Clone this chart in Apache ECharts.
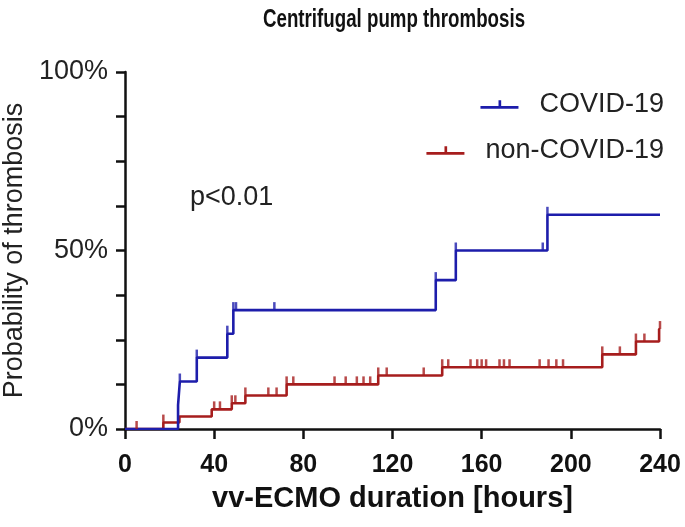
<!DOCTYPE html>
<html>
<head>
<meta charset="utf-8">
<script src="https://cdn.jsdelivr.net/npm/echarts@6/dist/echarts.min.js"></script>
<style>html,body{margin:0;padding:0;background:#fff;}#c{width:685px;height:527px;}</style>
</head>
<body>
<div id="c"></div>
<script>
// Kaplan-Meier style step data (hours, cumulative probability %)
const covidTimes = [0, 23.8, 24.6, 32.2, 45.9, 48.6, 139.4, 148.4, 189.5, 240];
const covidProb  = [0, 6.7, 13.3, 20.0, 26.7, 33.3, 41.7, 50.0, 60.0, 60.0];
const covidCensored = [24.6, 32.2, 45.9, 48.6, 49.8, 67, 139.4, 148.4, 187.4, 189.5];

const nonTimes = [0, 17.2, 24.4, 38.9, 47.9, 54.0, 72.5, 113.6, 142.3, 214.1, 229.2, 239.6, 240];
const nonProb  = [0, 1.8, 3.5, 5.5, 7.2, 9.4, 12.5, 15.0, 17.3, 20.9, 24.5, 28.0, 28.0];
const nonCensored = [5.2, 17.2, 40.0, 42.6, 47.9, 49.5, 54.0, 64.3, 68.0, 72.5, 75.5, 94, 99, 104, 107, 110, 113.6, 117.4, 134, 142.3, 145, 155, 158, 160, 162, 168, 170, 172.5, 186, 190, 193.5, 196.5, 214.1, 222, 229.2, 233, 240];

const xTicks = [0, 40, 80, 120, 160, 200, 240];
const yLabels = ['0%', '50%', '100%'];

const seriesNames = ['COVID-19', 'non-COVID-19'];
const titleText = 'Centrifugal pump thrombosis';
const blue = '#1d1dab';
const red = '#a61d1d';

function pairs(t, p) { return t.map((v, i) => [v, p[i]]); }
function valueAt(t, p, x) {
  let v = p[0];
  for (let i = 0; i < t.length; i++) { if (t[i] <= x) v = p[i]; }
  return v;
}
function censorPts(c, t, p) { return c.map(x => [x, valueAt(t, p, x)]); }

const iconPath = 'path://M0,7 H40 V10 H0 Z M19,1 H21.8 V7 H19 Z';
const font = 'Liberation Sans, Arial, sans-serif';

const chart = echarts.init(document.getElementById('c'));
chart.setOption({
  backgroundColor: '#fff',
  animation: false,
  textStyle: { fontFamily: font },
  legend: [
    { data: [seriesNames[0]], right: 16, top: 86, icon: iconPath, itemWidth: 38, itemHeight: 10,
      textStyle: { fontSize: 27, color: '#222', padding: [0, 0, 0, 16] } },
    { data: [seriesNames[1]], right: 16, top: 132, icon: iconPath, itemWidth: 38, itemHeight: 10,
      textStyle: { fontSize: 27, color: '#222', padding: [0, 0, 0, 16] } }
  ],
  grid: { left: 125, right: 25, top: 72, bottom: 98, containLabel: false, outerBoundsMode: 'none' },
  xAxis: {
    type: 'value', min: 0, max: 240, interval: 40,
    name: 'vv-ECMO duration [hours]', nameLocation: 'middle', nameGap: 55,
    nameTextStyle: { fontSize: 29, fontWeight: 'bold', color: '#111' },
    axisLine: { lineStyle: { color: '#111', width: 2.5 } },
    axisTick: { length: 10, lineStyle: { width: 2.5, color: '#111' } },
    axisLabel: { fontSize: 25, fontWeight: 'bold', color: '#111', margin: 24,
      formatter: v => xTicks.includes(v) ? String(v) : '' },
    splitLine: { show: false }
  },
  yAxis: {
    type: 'value', min: 0, max: 100, interval: 12.5,
    name: 'Probability of thrombosis', nameLocation: 'middle', nameGap: 91, nameRotate: 90,
    nameTextStyle: { fontSize: 27, color: '#222' },
    axisLine: { show: true, lineStyle: { color: '#111', width: 2.5 } },
    axisTick: { show: true, length: 9, lineStyle: { width: 2.5, color: '#111' } },
    axisLabel: { fontSize: 27, color: '#222', margin: 17,
      formatter: v => (v === 0 ? yLabels[0] : v === 50 ? yLabels[1] : v === 100 ? yLabels[2] : '') },
    splitLine: { show: false }
  },
  graphic: [
    { type: 'text', x: 394, y: 7, scaleX: 0.72,
      style: { text: titleText, fontSize: 26, fontWeight: 'bold', fill: '#111', fontFamily: font, textAlign: 'center', textVerticalAlign: 'top' } },
    { type: 'text', left: 190, top: 184, style: { text: 'p<0.01', fontSize: 27, fill: '#222', fontFamily: font } }
  ],
  series: [
    { name: seriesNames[0], type: 'line', step: 'end', showSymbol: false, data: pairs(covidTimes, covidProb),
      lineStyle: { color: blue, width: 2.6 }, itemStyle: { color: blue }, z: 3 },
    { name: seriesNames[1], type: 'line', step: 'end', showSymbol: false, data: pairs(nonTimes, nonProb),
      lineStyle: { color: red, width: 2.6 }, itemStyle: { color: red }, z: 2 },
    { name: 'covid-censored', type: 'scatter', data: censorPts(covidCensored, covidTimes, covidProb),
      symbol: 'rect', symbolSize: [2.5, 8], symbolOffset: [0, '-50%'], itemStyle: { color: blue }, z: 4 },
    { name: 'non-censored', type: 'scatter', data: censorPts(nonCensored, nonTimes, nonProb),
      symbol: 'rect', symbolSize: [2.5, 8], symbolOffset: [0, '-50%'], itemStyle: { color: red }, z: 4 }
  ]
});
</script>
</body>
</html>
